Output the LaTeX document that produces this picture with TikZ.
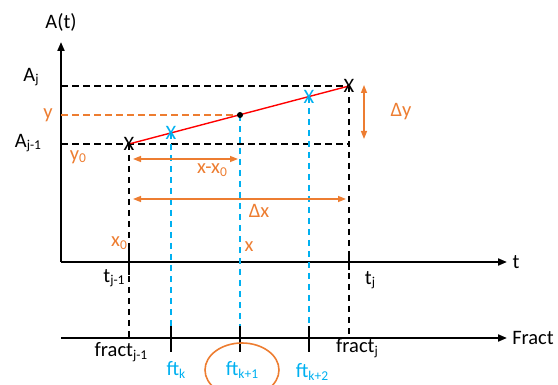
\documentclass[tikz,border=0pt]{standalone}
\usepackage{fontspec}
\setmainfont{Carlito}
\usetikzlibrary{arrows.meta}
\definecolor{orng}{RGB}{237,125,49}
\definecolor{lblue}{RGB}{0,176,240}
\newcommand{\lowsub}[1]{\raisebox{-0.25ex}{\fontsize{13.5}{14}\selectfont #1}}
\tikzset{
    axis/.style={line width=2pt, -{Triangle[length=9pt,width=7pt]}},
    guide/.style={line width=1.5pt, dash pattern=on 6.5pt off 4.5pt},
    dim/.style={orng, line width=1.4pt, {Triangle[length=8pt,width=6pt]}-{Triangle[length=8pt,width=6pt]}},
    tickline/.style={line width=1.7pt},
    lbl/.style={inner sep=0pt, font=\fontsize{20.5}{22}\selectfont}
}
\begin{document}
\begin{tikzpicture}[x=1pt, y=-1pt]
    \useasboundingbox (0,0) rectangle (558,385);
    \coordinate (O) at (61,262);
    \coordinate (Ytop) at (61,42);
    \coordinate (Tend) at (507,262);
    \coordinate (F0) at (61,338);
    \coordinate (Fend) at (507,338);
    \coordinate (P0) at (129,144);
    \coordinate (P1) at (349,86);
    \coordinate (Q) at (240,115);
    \coordinate (K0) at (171,133);
    \coordinate (K2) at (309,97);
    % Axes
    \draw[axis] (O) -- (Ytop);
    \draw[axis] (O) -- (Tend);
    \draw[axis] (F0) -- (Fend);
    % Horizontal guides
    \draw[guide] (Ytop |- P1) -- (P1);
    \draw[guide] (Ytop |- P0) -- (P1 |- P0);
    \draw[guide, orng] (Ytop |- Q) -- (Q);
    % Vertical guides
    \draw[guide] (P0) -- (P0 |- F0);
    \draw[guide] (P1) -- (P1 |- F0);
    \draw[guide, lblue] (K0) -- (K0 |- F0);
    \draw[guide, lblue] (Q) -- (Q |- F0);
    \draw[guide, lblue] (K2) -- (K2 |- F0);
    % Ticks
    \draw[tickline] (129,249) -- (129,275);
    \draw[tickline] (349,252) -- (349,270);
    \foreach \tx in {171,240,309}
        \draw[tickline] (\tx,326) -- (\tx,352);
    % Interpolation line
    \draw[red, line width=1.4pt] (P0) -- (P1);
    \fill (Q) circle (3pt);
    \node[lbl] (c0) at (P0) {X};
    \node[lbl] (c1) at (P1) {X};
    \node[lbl, text=lblue] (ck0) at (K0) {X};
    \node[lbl, text=lblue] (ck2) at (K2) {X};
    % Dimensions
    \draw[dim] (133,159) -- (238,159);
    \draw[dim] (133,199) -- (346,199);
    \draw[dim] (364,85) -- (364,139);
    % Labels
    \node[lbl] (lA) at (61,22) {A(t)};
    \node[lbl] (lAj) at (31,77) {A\lowsub{j}};
    \node[lbl, text=orng] (ly) at (48,115) {y};
    \node[lbl] (lAj1) at (28,143) {A\lowsub{j-1}};
    \node[lbl, text=orng] (ly0) at (78,157) {y\lowsub{0}};
    \node[lbl, text=orng] (ldx0) at (212,170) {x-x\lowsub{0}};
    \node[lbl, text=orng] (ldx) at (259,211) {Δx};
    \node[lbl, text=orng] (ldy) at (401,112) {Δy};
    \node[lbl, text=orng] (lx0) at (119,243) {x\lowsub{0}};
    \node[lbl, text=orng] (lx) at (249,247) {x};
    \node[lbl] (ltj1) at (114,278) {t\lowsub{j-1}};
    \node[lbl] (ltj) at (370,280) {t\lowsub{j}};
    \node[lbl] (lt) at (516,262) {t};
    \node[lbl] (lfj1) at (121,352) {fract\lowsub{j-1}};
    \node[lbl, text=lblue] (lfk) at (176,370) {ft\lowsub{k}};
    \node[lbl, text=lblue] (lfk1) at (242,370) {ft\lowsub{k+1}};
    \node[lbl, text=lblue] (lfk2) at (312,372) {ft\lowsub{k+2}};
    \node[lbl] (lfj) at (357,348) {fract\lowsub{j}};
    \node[lbl] (lF) at (533,338) {Fract};
    % Circled label
    \draw[orng, line width=1.6pt] (lfk1) ellipse (37 and 27);
\end{tikzpicture}
\end{document}
